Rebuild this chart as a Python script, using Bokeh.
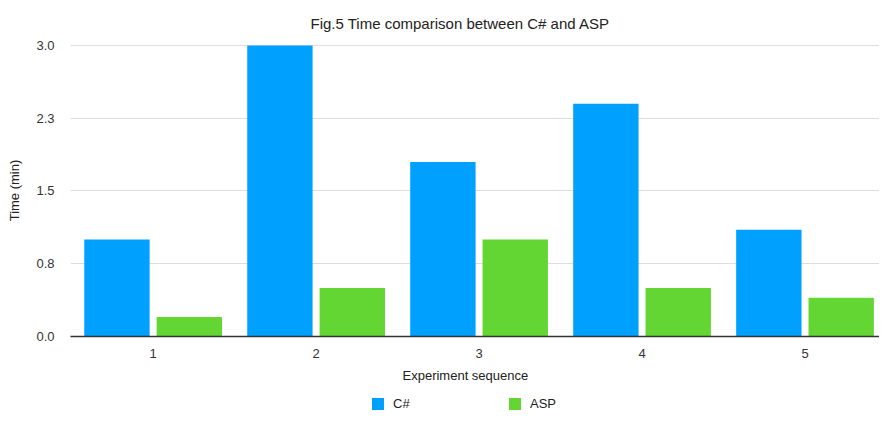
from bokeh.plotting import figure
from bokeh.models import ColumnDataSource, Range1d, FixedTicker, Legend, LegendItem, Title
from bokeh.layouts import column
from bokeh.transform import dodge
from bokeh.embed import file_html
from bokeh.resources import INLINE

sequence = [1, 2, 3, 4, 5]
csharp = [1.0, 3.0, 1.8, 2.4, 1.1]
asp = [0.2, 0.5, 1.0, 0.5, 0.4]
series_names = ["C#", "ASP"]
y_ticks = [0, 0.75, 1.5, 2.25, 3.0]
y_tick_labels = ["0.0", "0.8", "1.5", "2.3", "3.0"]

FONT = "Liberation Sans"
BLUE = "#00A0FF"
GREEN = "#63D634"
W = 879

src = ColumnDataSource(dict(x=sequence, cs=csharp, asp=asp))

p = figure(width=W, height=388, output_backend="svg", toolbar_location=None,
           x_range=Range1d(0.493, 5.457), y_range=Range1d(0, 3.01),
           min_border_left=70, min_border_right=0, min_border_top=41, min_border_bottom=51)
p.outline_line_color = None
p.background_fill_color = "white"
p.border_fill_color = "white"

r1 = p.vbar(x=dodge("x", -0.222, range=p.x_range), top="cs", width=0.401, source=src,
            fill_color=BLUE, line_color=None)
r2 = p.vbar(x=dodge("x", 0.222, range=p.x_range), top="asp", width=0.401, source=src,
            fill_color=GREEN, line_color=None)

# title
p.title.text = "Fig.5 Time comparison between C# and ASP"
p.title.text_font = FONT
p.title.text_font_size = "15px"
p.title.text_font_style = "normal"
p.title.text_color = "#222222"
p.title.align = "left"
p.title.offset = 240
p.title.standoff = 25

# x axis
xa = p.xaxis[0]
xa.ticker = FixedTicker(ticks=sequence)
xa.major_tick_line_color = None
xa.minor_tick_line_color = None
xa.major_tick_out = 0
xa.major_tick_in = 0
xa.axis_line_color = "#333333"
xa.axis_line_width = 1.5
xa.major_label_text_font = FONT
xa.major_label_text_font_size = "13px"
xa.major_label_text_color = "#333333"
xa.major_label_standoff = 12

# y axis
ya = p.yaxis[0]
ya.ticker = FixedTicker(ticks=y_ticks)
ya.major_label_overrides = {t: l for t, l in zip(y_ticks, y_tick_labels)}
ya.axis_line_color = None
ya.major_tick_line_color = None
ya.minor_tick_line_color = None
ya.major_tick_out = 0
ya.major_tick_in = 0
ya.major_label_text_font = FONT
ya.major_label_text_font_size = "13px"
ya.major_label_text_color = "#333333"
ya.major_label_standoff = 16
ya.axis_label = "Time (min)"
ya.axis_label_text_font = FONT
ya.axis_label_text_font_size = "13px"
ya.axis_label_text_font_style = "normal"
ya.axis_label_text_color = "#222222"
ya.axis_label_standoff = 11

p.xgrid.grid_line_color = None
p.ygrid.grid_line_color = "#DDDDDD"
p.ygrid.grid_line_width = 1

xt = Title(text="Experiment sequence", text_font=FONT, text_font_size="13px",
           text_font_style="normal", text_color="#222222", align="left", offset=332, standoff=11)
p.add_layout(xt, "below")

# legend strip (its renderers are hidden; only their legend swatches show)
lg = figure(width=W, height=25, output_backend="svg", toolbar_location=None,
            x_axis_type=None, y_axis_type=None, x_range=Range1d(0, 1), y_range=Range1d(0, 1),
            min_border=0)
lg.outline_line_color = None
lg.grid.grid_line_color = None
l1 = lg.vbar(x="x", top="cs", width=0.1, source=src, fill_color=BLUE, line_color=None, visible=False)
l2 = lg.vbar(x="x", top="asp", width=0.1, source=src, fill_color=GREEN, line_color=None, visible=False)
legend = Legend(items=[LegendItem(label=series_names[0], renderers=[l1]),
                       LegendItem(label=series_names[1], renderers=[l2])],
                orientation="horizontal", location=(300, 2),
                glyph_width=15, glyph_height=15, label_standoff=8, label_width=40,
                spacing=74, padding=0, margin=0, border_line_color=None,
                background_fill_alpha=0, inactive_fill_alpha=0,
                label_text_font=FONT, label_text_font_size="13px", label_text_color="#222222")
lg.add_layout(legend, "center")

open("out.html", "w").write(file_html(column(p, lg), INLINE))
